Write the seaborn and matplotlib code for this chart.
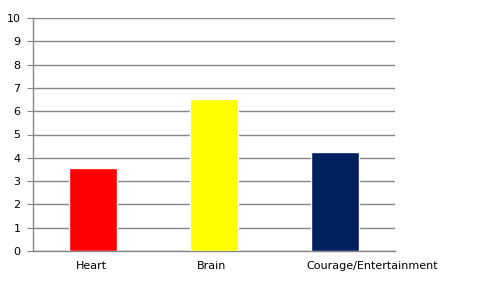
import matplotlib
matplotlib.use("Agg")
import matplotlib.pyplot as plt
import matplotlib.transforms as mtrans
import seaborn as sns
import pandas as pd
from matplotlib.ticker import FixedLocator

categories = ["Heart", "Brain", "Courage/Entertainment"]
values = [3.55, 6.52, 4.25]
colors = ["#ff0000", "#ffff00", "#002060"]
yticks = list(range(0, 11))

sns.set_style("white")
plt.rcParams['font.family'] = ['DejaVu Sans']

df = pd.DataFrame({"cat": categories, "val": values})
fig = plt.figure(figsize=(4.8, 2.91), dpi=100)
ax = fig.add_axes([33/480, 1-251/291, (395-33)/480, (251-18)/291])
sns.barplot(data=df, x="cat", y="val", hue="cat", palette=colors, width=0.4,
            legend=False, ax=ax, saturation=1, zorder=3)
ax.set_xlim(-0.5, 2.5)
ax.set_ylim(0, 10)
ax.set_yticks(yticks)
ax.grid(axis="y", color="#868686", linewidth=1, zorder=0)
ax.set_axisbelow(True)
for s in ["top", "right"]:
    ax.spines[s].set_visible(False)
for s in ["left", "bottom"]:
    ax.spines[s].set_color("#868686")
    ax.spines[s].set_linewidth(1)
ax.set_xlabel("")
ax.set_ylabel("")
ax.tick_params(axis="x", which="major", length=0, labelsize=8, pad=7, labelcolor="black")
ax.xaxis.set_minor_locator(FixedLocator([-0.5, 0.5, 1.5, 2.5]))
ax.tick_params(axis="x", which="minor", length=4, color="#868686", direction="out")
ax.tick_params(axis="y", length=4, color="#868686", labelsize=8, left=True,
               direction="out", pad=5, labelcolor="black")
shifts = [-2, -2, 38]
for lbl, dx in zip(ax.get_xticklabels(), shifts):
    lbl.set_transform(lbl.get_transform() + mtrans.ScaledTranslation(dx/100, 0, fig.dpi_scale_trans))
fig.savefig("out.png", dpi=100)
